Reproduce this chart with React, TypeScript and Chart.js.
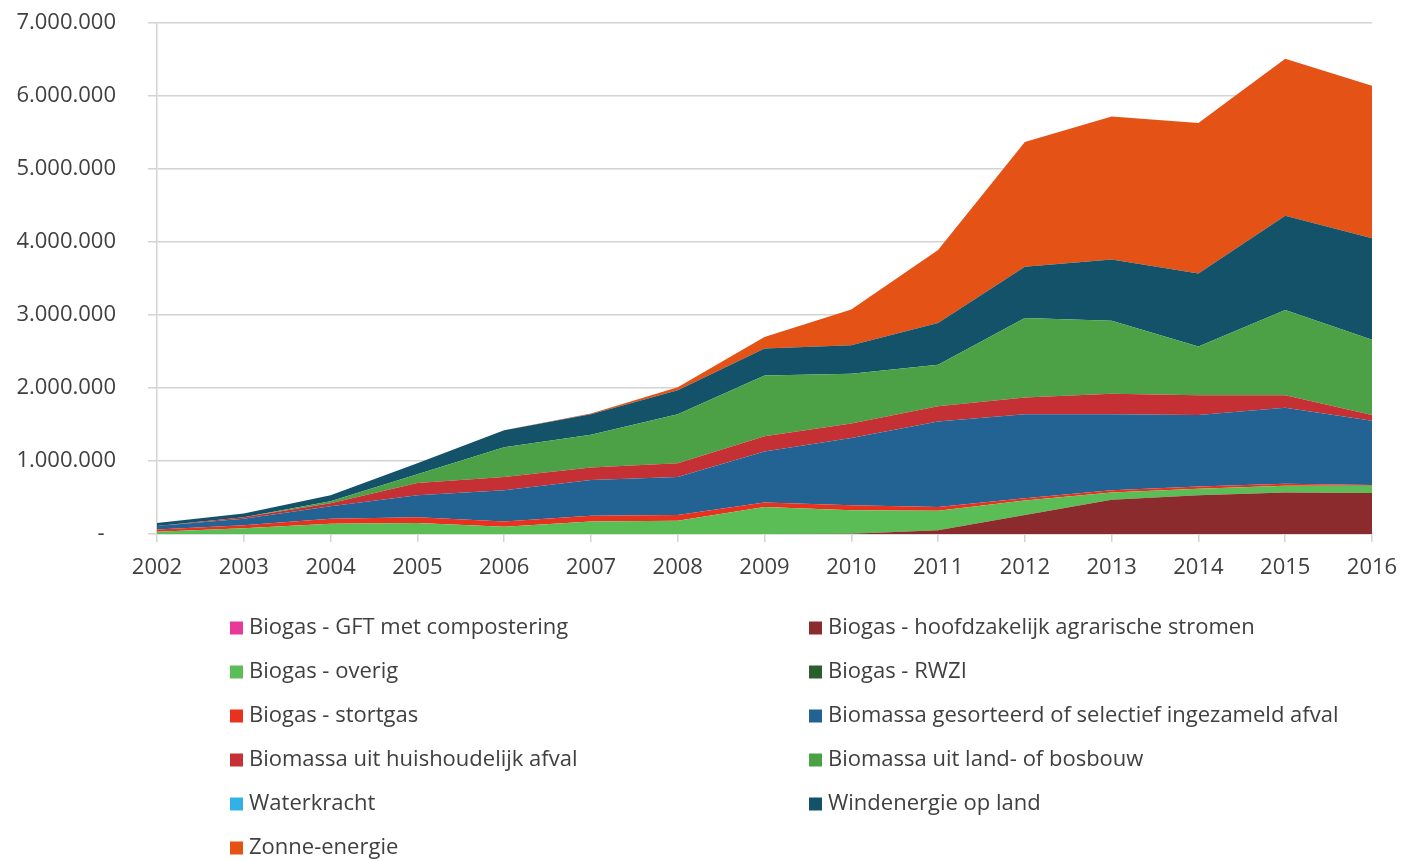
import React, { useEffect, useRef } from "react";
import { Chart, registerables } from "chart.js";

Chart.register(...registerables);

const years = ["2002", "2003", "2004", "2005", "2006", "2007", "2008", "2009", "2010", "2011", "2012", "2013", "2014", "2015", "2016"];

const seriesNames = [
  "Biogas - GFT met compostering",
  "Biogas - hoofdzakelijk agrarische stromen",
  "Biogas - overig",
  "Biogas - RWZI",
  "Biogas - stortgas",
  "Biomassa gesorteerd of selectief ingezameld afval",
  "Biomassa uit huishoudelijk afval",
  "Biomassa uit land- of bosbouw",
  "Waterkracht",
  "Windenergie op land",
  "Zonne-energie",
];

const biogasGft = [0, 0, 0, 0, 0, 0, 0, 0, 0, 0, 0, 0, 0, 0, 0];
const biogasAgrarisch = [0, 0, 0, 0, 0, 0, 0, 0, 5000, 50000, 260000, 470000, 530000, 570000, 560000];
const biogasOverig = [30000, 80000, 140000, 150000, 100000, 170000, 180000, 370000, 320000, 270000, 200000, 100000, 90000, 90000, 100000];
const biogasRwzi = [0, 0, 0, 0, 0, 0, 0, 0, 0, 0, 0, 0, 0, 0, 0];
const biogasStortgas = [30000, 40000, 70000, 80000, 70000, 80000, 80000, 60000, 70000, 50000, 30000, 30000, 30000, 30000, 10000];
const biomassaGesorteerd = [50000, 90000, 170000, 300000, 430000, 490000, 520000, 700000, 920000, 1170000, 1150000, 1040000, 980000, 1040000, 880000];
const biomassaHuishoudelijk = [0, 20000, 40000, 170000, 180000, 170000, 190000, 210000, 200000, 210000, 230000, 280000, 270000, 170000, 80000];
const biomassaLandBosbouw = [0, 0, 30000, 120000, 410000, 450000, 670000, 830000, 680000, 570000, 1090000, 1000000, 670000, 1170000, 1030000];
const waterkracht = [0, 0, 0, 0, 0, 0, 0, 0, 0, 0, 0, 0, 0, 0, 0];
const windLand = [40000, 50000, 80000, 150000, 230000, 280000, 330000, 370000, 390000, 570000, 700000, 840000, 1000000, 1290000, 1390000];
const zonneEnergie = [0, 0, 0, 0, 0, 10000, 40000, 160000, 490000, 1000000, 1710000, 1960000, 2060000, 2150000, 2090000];

const yTicks = [0, 1000000, 2000000, 3000000, 4000000, 5000000, 6000000, 7000000];

const seriesValues = [
  biogasGft,
  biogasAgrarisch,
  biogasOverig,
  biogasRwzi,
  biogasStortgas,
  biomassaGesorteerd,
  biomassaHuishoudelijk,
  biomassaLandBosbouw,
  waterkracht,
  windLand,
  zonneEnergie,
];

const seriesColors = [
  "#E8399A",
  "#8B2B2E",
  "#5BBD55",
  "#2A5E2A",
  "#E8321F",
  "#236393",
  "#C43033",
  "#4CA046",
  "#33B1E6",
  "#135269",
  "#E45215",
];

const FONT = "'Open Sans', 'DejaVu Sans', sans-serif";
const TEXT_COLOR = "#404040";
const GRID_COLOR = "#d3d3d3";

function fmt(v: number): string {
  if (v === 0) return "-  ";
  return String(v).replace(/\B(?=(\d{3})+(?!\d))/g, ".");
}

const legendPlugin = {
  id: "twoColumnLegend",
  afterDraw(chart: any) {
    const ctx = chart.ctx;
    ctx.save();
    ctx.font = `22px ${FONT}`;
    ctx.textBaseline = "middle";
    ctx.textAlign = "left";
    chart.data.datasets.forEach((ds: any, i: number) => {
      const col = i % 2;
      const row = Math.floor(i / 2);
      const x = col === 0 ? 230 : 809;
      const y = 628 + row * 44;
      ctx.fillStyle = ds.backgroundColor;
      ctx.fillRect(x, y - 6.5, 13, 13);
      ctx.fillStyle = TEXT_COLOR;
      ctx.fillText(ds.label, x + 19, y);
    });
    ctx.restore();
  },
};

export default function App() {
  const canvasRef = useRef<HTMLCanvasElement | null>(null);

  useEffect(() => {
    if (!canvasRef.current) return;
    const chart = new Chart(canvasRef.current, {
      type: "line",
      data: {
        labels: years,
        datasets: seriesNames.map((name, i) => ({
          label: name,
          data: seriesValues[i],
          backgroundColor: seriesColors[i],
          borderColor: "transparent",
          borderWidth: 0,
          pointRadius: 0,
          pointHoverRadius: 0,
          pointBorderWidth: 0,
          tension: 0,
          fill: i === 0 ? "origin" : "-1",
        })),
      },
      options: {
        responsive: false,
        animation: false,
        events: [],
        layout: { autoPadding: false, padding: { left: 0, top: 23, right: 32, bottom: 287 } },
        plugins: {
          legend: { display: false },
          tooltip: { enabled: false },
          title: { display: false },
        },
        scales: {
          x: {
            offset: false,
            grid: {
              display: true,
              drawOnChartArea: false,
              drawTicks: true,
              tickLength: 8,
              color: GRID_COLOR,
              lineWidth: 1.5,
            },
            border: { display: true, color: GRID_COLOR, width: 1.5 },
            ticks: {
              padding: 13,
              color: TEXT_COLOR,
              font: { family: FONT, size: 22 },
              maxRotation: 0,
              autoSkip: false,
            },
            afterFit: (scale: any) => {
              scale.height = 40;
              scale.paddingLeft = 0;
              scale.paddingRight = 0;
              scale.paddingTop = 0;
              scale.paddingBottom = 0;
            },
          },
          y: {
            stacked: true,
            min: 0,
            max: 7000000,
            afterBuildTicks: (scale: any) => {
              scale.ticks = yTicks.map((v) => ({ value: v }));
            },
            grid: {
              color: GRID_COLOR,
              lineWidth: 1.5,
              drawTicks: true,
              tickLength: 9,
            },
            border: { display: true, color: GRID_COLOR, width: 1.5 },
            ticks: {
              padding: 32,
              color: TEXT_COLOR,
              font: { family: FONT, size: 22 },
              callback: (v: any) => fmt(Number(v)),
            },
            afterFit: (scale: any) => {
              scale.width = 157;
              scale.paddingLeft = 0;
              scale.paddingRight = 0;
              scale.paddingTop = 0;
              scale.paddingBottom = 0;
            },
          },
        },
      },
      plugins: [legendPlugin],
    });
    return () => chart.destroy();
  }, []);

  return (
    <div style={{ position: "absolute", left: 0, top: 0, width: 1404, height: 861, background: "#ffffff" }}>
      <canvas ref={canvasRef} width={1404} height={861} style={{ display: "block" }} />
    </div>
  );
}
